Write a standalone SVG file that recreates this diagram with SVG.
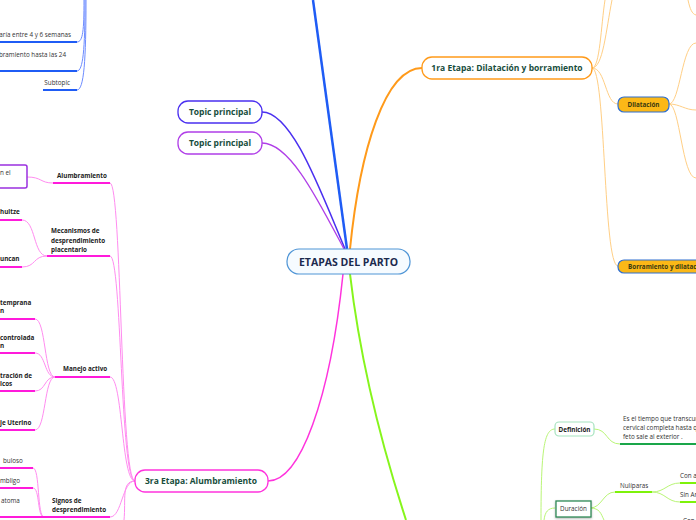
<svg xmlns="http://www.w3.org/2000/svg" width="696" height="520" viewBox="0 0 696 520">
<style>
text{font-family:"Open Sans","Noto Sans","Liberation Sans",sans-serif}
.main{font-size:10.5px;font-weight:bold;fill:#1b2a4e}
.topic{font-size:8.5px;font-weight:bold;fill:#174d3c}
.sb{font-size:6.3px;font-weight:bold;fill:#222}
.sn{font-size:6.3px;fill:#333}
.c{fill:none}
.mg{stroke:#ff8cf0;stroke-width:1}
.mu{stroke:#ff1adb;stroke-width:2}
.bl{stroke:#6d8cff;stroke-width:1}
.bu{stroke:#1f5cf5;stroke-width:2}
.or{stroke:#ffcf85;stroke-width:1}
.gl{stroke:#b9f576;stroke-width:1}
.gu{stroke:#7ef20a;stroke-width:2}
</style>
<g id="connectors" class="c">
  <path d="M347,249 L313,0" stroke="#1f5cf5" stroke-width="2.5"/>
  <path d="M350,249 C360,150 385,68 422,68" stroke="#ff9a1a" stroke-width="2"/>
  <path d="M345,249 C320,190 292,112 262,112" stroke="#4a2ff0" stroke-width="1.5"/>
  <path d="M344,249 C318,200 290,143 262,143" stroke="#b03ee8" stroke-width="1.3"/>
  <path d="M343,274 C330,400 300,481 268,481" stroke="#ff33dd" stroke-width="1.5"/>
  <path d="M350,274 C360,360 380,440 406,520" stroke="#86f51c" stroke-width="2"/>
  <!-- blue subtree -->
  <path class="bl" d="M84,0 C84,30 83,42 77,42"/>
  <path class="bl" d="M85,0 C85,50 83,71 77,71"/>
  <path class="bl" d="M86,0 C86,60 84,90 77,90"/>
  <path class="bu" d="M0,42 L77,42"/>
  <path class="bu" d="M0,71 L77,71"/>
  <path class="bu" d="M43,90 L77,90"/>
  <!-- orange subtree -->
  <path class="or" d="M592,68 C600,68 601,25 605,0"/>
  <path class="or" d="M592,68 C603,68 606,30 612,0"/>
  <path class="or" d="M592,68 C606,68 605,104 618,104"/>
  <path class="or" d="M592,68 C606,68 603,266 618,266"/>
  <path class="or" d="M669,104 C680,104 682,43 696,43"/>
  <path class="or" d="M669,104 C680,104 685,110 696,110"/>
  <path class="or" d="M669,104 C680,104 682,178 696,178"/>
  <path class="or" d="M688,0 C690,9 692,14 696,15"/>
  <!-- magenta subtree -->
  <path class="mg" d="M135,481 C120,481 122,183 110,183"/>
  <path class="mg" d="M135,481 C120,481 122,256 110,256"/>
  <path class="mg" d="M135,481 C121,481 123,377 110,377"/>
  <path class="mg" d="M135,481 C122,481 122,517 110,517"/>
  <path class="mg" d="M135,481 C121,481 126,500 124,520"/>
  <path class="mu" d="M53,183 L110,183"/>
  <path class="mu" d="M47,256 L110,256"/>
  <path class="mu" d="M55,377 L110,377"/>
  <path class="mu" d="M44,517 L110,517"/>
  <path class="mg" d="M27,177 C42,177 40,183 53,183"/>
  <path class="mg" d="M22,220 C36,220 33,256 47,256"/>
  <path class="mg" d="M22,267 C36,267 33,256 47,256"/>
  <path class="mu" d="M0,220 L22,220"/>
  <path class="mu" d="M0,267 L22,267"/>
  <path class="mg" d="M35,319 C46,319 44,377 55,377"/>
  <path class="mg" d="M35,353 C46,353 44,377 55,377"/>
  <path class="mg" d="M35,391 C46,391 44,377 55,377"/>
  <path class="mg" d="M35,430 C46,430 44,377 55,377"/>
  <path class="mu" d="M0,319 L35,319"/>
  <path class="mu" d="M0,353 L35,353"/>
  <path class="mu" d="M0,391 L35,391"/>
  <path class="mu" d="M0,430 L35,430"/>
  <path class="mg" d="M33,468 C40,468 37,517 44,517"/>
  <path class="mg" d="M33,488 C40,488 37,517 44,517"/>
  <path class="mu" d="M0,468 L33,468"/>
  <path class="mu" d="M0,488 L33,488"/>
  <path class="mu" d="M0,517 L44,517"/>
  <!-- green subtree -->
  <path class="gl" d="M541,520 C541,450 544,429 555,429"/>
  <path class="gl" d="M544,520 C545,512 548,508 555,508"/>
  <path class="gl" d="M594,429 C608,429 606,444 620,444"/>
  <path d="M620,444 L696,444" stroke="#1aa64a" stroke-width="2"/>
  <path class="gl" d="M590,508 C602,508 603,492 615,492"/>
  <path class="gl" d="M590,508 C600,508 601,514 604,520"/>
  <path class="gu" d="M615,492 L652,492"/>
  <path class="gl" d="M652,492 C665,492 667,483 680,483"/>
  <path class="gl" d="M652,492 C665,492 667,502 680,502"/>
  <path class="gu" d="M680,483 L696,483"/>
  <path class="gu" d="M680,502 L696,502"/>
</g>
<g id="center">
  <rect x="287" y="249" width="123" height="25" rx="12" fill="#f6fbff" stroke="#4f95d6" stroke-width="1.2"/>
  <text class="main" x="348.5" y="265.5" text-anchor="middle">ETAPAS DEL PARTO</text>
</g>
<g id="topic1">
  <rect x="178" y="101" width="84" height="22" rx="10" fill="#fff" stroke="#4a2ff0" stroke-width="1.3"/>
  <text class="topic" x="220" y="115" text-anchor="middle">Topic principal</text>
</g>
<g id="topic2">
  <rect x="178" y="132" width="84" height="22" rx="10" fill="#fff" stroke="#b03ee8" stroke-width="1.3"/>
  <text class="topic" x="220" y="146" text-anchor="middle">Topic principal</text>
</g>
<g id="etapa1">
  <rect x="422" y="57" width="170" height="22" rx="10" fill="#fff" stroke="#ff9a1a" stroke-width="1.3"/>
  <text class="topic" x="507" y="71" text-anchor="middle">1ra Etapa: Dilatación y borramiento</text>
</g>
<g id="dilatacion">
  <rect x="618" y="97" width="51" height="15" rx="6" fill="#fbb817" stroke="#2f6fd0" stroke-width="1.2"/>
  <text class="sb" x="643.5" y="106.8" text-anchor="middle" style="fill:#3a3a10">Dilatación</text>
</g>
<g id="borramiento">
  <rect x="618" y="260" width="90" height="13" rx="6" fill="#fbb817" stroke="#2f6fd0" stroke-width="1.2"/>
  <text class="sb" x="628" y="268.8" style="fill:#3a3a10">Borramiento y dilatación</text>
</g>
<g id="etapa3">
  <rect x="135" y="470" width="133" height="22" rx="10" fill="#fff" stroke="#ff33dd" stroke-width="1.3"/>
  <text class="topic" x="201" y="484" text-anchor="middle">3ra Etapa: Alumbramiento</text>
</g>
<g id="blue-subtopics">
  <text class="sn" x="71" y="37" text-anchor="end">Varía entre 4 y 6 semanas</text>
  <text class="sn" x="66" y="57" text-anchor="end">mbramiento hasta las 24</text>
  <text class="sn" x="70" y="85" text-anchor="end">Subtopic</text>
</g>
<g id="alumbramiento">
  <text class="sb" x="57" y="178">Alumbramiento</text>
  <rect x="-5" y="165" width="32" height="23" rx="2" fill="#fff" stroke="#9b30e0" stroke-width="1.5"/>
  <text class="sn" x="0" y="175">n el</text>
</g>
<g id="mecanismos">
  <text class="sb" x="51" y="233">Mecanismos de</text>
  <text class="sb" x="51" y="243">desprendimiento</text>
  <text class="sb" x="51" y="252">placentario</text>
  <text class="sb" x="0" y="214">hultze</text>
  <text class="sb" x="0" y="261">uncan</text>
</g>
<g id="manejo">
  <text class="sb" x="63" y="371">Manejo activo</text>
  <text class="sb" x="0" y="305">temprana</text>
  <text class="sb" x="0" y="313">n</text>
  <text class="sb" x="0" y="340">controlada</text>
  <text class="sb" x="0" y="348">n</text>
  <text class="sb" x="0" y="378">tración de</text>
  <text class="sb" x="0" y="386">icos</text>
  <text class="sb" x="0" y="425">je Uterino</text>
</g>
<g id="signos">
  <text class="sb" x="52" y="503">Signos de</text>
  <text class="sb" x="52" y="512">desprendimiento</text>
  <text class="sn" x="3" y="463">buloso</text>
  <text class="sn" x="0" y="483">mbligo</text>
  <text class="sn" x="1" y="503">atoma</text>
</g>
<g id="definicion">
  <rect x="555" y="422" width="39" height="14" rx="4" fill="#fff" stroke="#a6e3bf" stroke-width="1.2"/>
  <text class="sb" x="574.5" y="431.5" text-anchor="middle">Definición</text>
  <text class="sn" x="623" y="421">Es el tiempo que transcurre</text>
  <text class="sn" x="623" y="430">cervical completa hasta que</text>
  <text class="sn" x="623" y="439">feto sale al exterior .</text>
</g>
<g id="duracion">
  <rect x="556" y="501" width="35" height="16" fill="#fff" stroke="#2e8b57" stroke-width="1.3" style="filter:drop-shadow(0 1px 1px rgba(0,0,0,0.3))"/>
  <text class="sn" x="573.5" y="511" text-anchor="middle">Duración</text>
  <text class="sn" x="620" y="488">Nulíparas</text>
  <text class="sn" x="680" y="478">Con a</text>
  <text class="sn" x="680" y="497">Sin An</text>
  <text class="sn" x="683" y="523">Con</text>
</g>
</svg>
